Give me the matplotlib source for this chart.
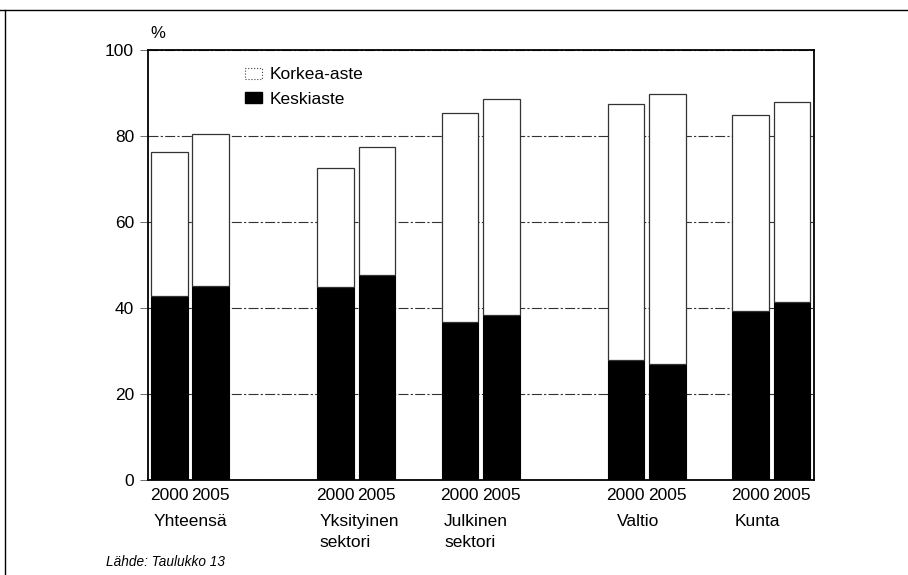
import numpy as np
import matplotlib
matplotlib.use("Agg")
import matplotlib.pyplot as plt
from matplotlib.patches import Patch
from matplotlib.lines import Line2D

plt.rcParams['font.family'] = ['Liberation Sans', 'DejaVu Sans']

# data (percent)
groups = ['Yhteensä', 'Yksityinen\nsektori', 'Julkinen\nsektori', 'Valtio', 'Kunta']
group_pos = [0, 1, 1.75, 2.75, 3.5]
label_shift = [0.0, 0.0, 0.0, 0.04, 0.0]   # small nudges for the group names
years = ['2000', '2005']
total_2000 = [76.3, 72.6, 85.4, 87.4, 84.9]   # korkea-aste + keskiaste
total_2005 = [80.5, 77.5, 88.5, 89.8, 88.0]
keski_2000 = [42.7, 44.8, 36.7, 27.9, 39.3]
keski_2005 = [45.2, 47.7, 38.4, 26.9, 41.5]

fig = plt.figure(figsize=(9.08, 5.75), dpi=100)
ax = fig.add_axes([0.163, 0.1652, 0.7335, 0.7478])

w = 0.22
off = 0.125
gp = np.array(group_pos)
x00 = gp - off
x05 = gp + off
korkea_2000 = np.array(total_2000) - np.array(keski_2000)
korkea_2005 = np.array(total_2005) - np.array(keski_2005)

ax.bar(x00, keski_2000, w, color='black', edgecolor='black', lw=0.8, zorder=3)
ax.bar(x05, keski_2005, w, color='black', edgecolor='black', lw=0.8, zorder=3)
ax.bar(x00, korkea_2000, w, bottom=keski_2000, color='white', edgecolor='#333333',
       lw=0.9, zorder=3)
ax.bar(x05, korkea_2005, w, bottom=keski_2005, color='white', edgecolor='#333333',
       lw=0.9, zorder=3)

ax.set_xlim(-0.253, 3.759)
ax.set_ylim(0, 100)
ax.set_yticks([0, 20, 40, 60, 80, 100])
ax.yaxis.grid(True, color='#333333', lw=0.8, linestyle=(0, (9, 2, 2, 2)), zorder=0)
ax.tick_params(axis='y', direction='out', length=6, width=0.6, color='#555555',
               labelsize=12.5, pad=4)

xt = np.ravel(np.column_stack([x00, x05]))
ax.set_xticks(xt)
ax.set_xticklabels(years * len(groups), fontsize=12.5)
ax.tick_params(axis='x', length=0, pad=6)

for s in ax.spines.values():
    s.set_linewidth(1.3)
    s.set_color('black')

for g, sh, lab in zip(group_pos, label_shift, groups):
    ax.annotate(lab, xy=(g - 0.22 + sh, 0), xycoords=('data', 'axes fraction'),
                xytext=(0, -24.5), textcoords='offset points', ha='left', va='top',
                fontsize=12.5, linespacing=1.5)

ax.text(0.003, 1.02, '%', transform=ax.transAxes, fontsize=12, ha='left', va='bottom')

handles = [Patch(facecolor='white', edgecolor='#444444', lw=0.8, linestyle=':'),
           Patch(facecolor='black', edgecolor='black')]
ax.legend(handles, ['Korkea-aste', 'Keskiaste'], loc='upper left',
          bbox_to_anchor=(0.145, 0.96), frameon=False, fontsize=12.5,
          handlelength=1.0, handleheight=0.6, handletextpad=0.45,
          labelspacing=0.55, borderpad=0, borderaxespad=0)

fig.text(0.117, 0.0226, 'Lähde: Taulukko 13', fontsize=9.8, style='italic',
         ha='left', va='center')

# outer frame (left and top edges of the scanned box)
fig.add_artist(Line2D([5 / 908, 5 / 908], [0, 1 - 10 / 575], color='black', lw=1.0))
fig.add_artist(Line2D([0, 1], [1 - 10 / 575, 1 - 10 / 575], color='black', lw=1.0))

fig.savefig('out.png', dpi=100)
